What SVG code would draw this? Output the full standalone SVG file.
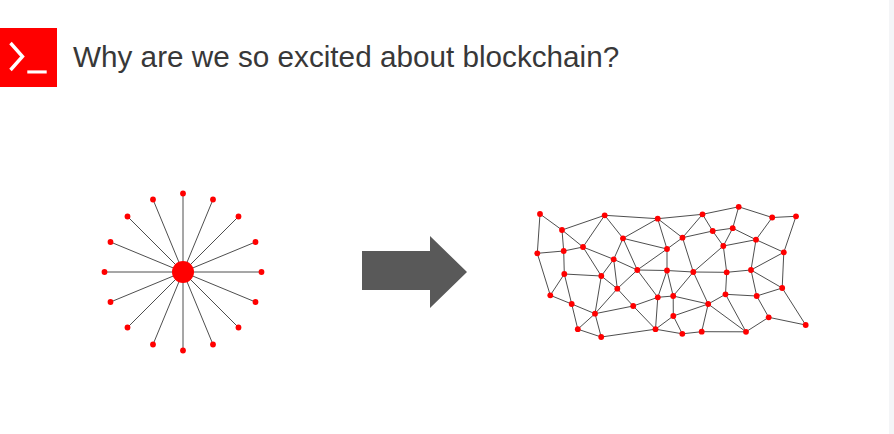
<svg xmlns="http://www.w3.org/2000/svg" width="894" height="434" viewBox="0 0 894 434">
<style>
.title{font-family:"Liberation Sans",Arial,sans-serif;font-size:29.7px;fill:#383838}
.edge{stroke:#3a3a3a;stroke-width:0.9;fill:none}
.dot{fill:#ff0000}
</style>
<defs>
<circle id="d" r="2.9" class="dot"/>
</defs>
<rect width="894" height="434" fill="#ffffff"/>
<rect x="889" y="0" width="5" height="434" fill="#f4f5f7"/>
<g id="logo">
<rect x="0" y="28" width="57" height="59" fill="#ff0000"/>
<polyline points="10.5,43 22.5,56.5 10.5,70" fill="none" stroke="#ffffff" stroke-width="3.4"/>
<rect x="27.3" y="70.4" width="19.4" height="3.1" fill="#ffffff"/>
</g>
<text id="title" class="title" x="73" y="67">Why are we so excited about blockchain?</text>
<g id="arrow">
<polygon points="362,251 430,251 430,236 467,272 430,308 430,290 362,290" fill="#595959"/>
</g>
<g id="star">
<g id="star-connectors" class="edge">
<line x1="183" y1="272" x2="183" y2="193.5"/>
<line x1="183" y1="272" x2="213" y2="199.5"/>
<line x1="183" y1="272" x2="238.5" y2="216.5"/>
<line x1="183" y1="272" x2="255.5" y2="242"/>
<line x1="183" y1="272" x2="261.5" y2="272"/>
<line x1="183" y1="272" x2="255.5" y2="302"/>
<line x1="183" y1="272" x2="238.5" y2="327.5"/>
<line x1="183" y1="272" x2="213" y2="344.5"/>
<line x1="183" y1="272" x2="183" y2="350.5"/>
<line x1="183" y1="272" x2="153" y2="344.5"/>
<line x1="183" y1="272" x2="127.5" y2="327.5"/>
<line x1="183" y1="272" x2="110.5" y2="302"/>
<line x1="183" y1="272" x2="104.5" y2="272"/>
<line x1="183" y1="272" x2="110.5" y2="242"/>
<line x1="183" y1="272" x2="127.5" y2="216.5"/>
<line x1="183" y1="272" x2="153" y2="199.5"/>
</g>
<g id="star-nodes">
<circle cx="183" cy="272" r="11" class="dot"/>
<use href="#d" x="183" y="193.5"/><use href="#d" x="213" y="199.5"/><use href="#d" x="238.5" y="216.5"/><use href="#d" x="255.5" y="242"/>
<use href="#d" x="261.5" y="272"/><use href="#d" x="255.5" y="302"/><use href="#d" x="238.5" y="327.5"/><use href="#d" x="213" y="344.5"/>
<use href="#d" x="183" y="350.5"/><use href="#d" x="153" y="344.5"/><use href="#d" x="127.5" y="327.5"/><use href="#d" x="110.5" y="302"/>
<use href="#d" x="104.5" y="272"/><use href="#d" x="110.5" y="242"/><use href="#d" x="127.5" y="216.5"/><use href="#d" x="153" y="199.5"/>
</g>
</g>
<g id="mesh">
<g id="mesh-connectors" class="edge">
<path d="M540,214L562,230 M540,214L537.3,253.3 M562,230L604.7,215.3 M562,230L563.7,251 M562,230L583,247 M604.7,215.3L583,247 M604.7,215.3L623,238.3 M604.7,215.3L657.7,218.7 M657.7,218.7L702.5,214.3 M657.7,218.7L623,238.3 M657.7,218.7L667,249 M657.7,218.7L682.5,237.7 M537.3,253.3L563.7,251 M537.3,253.3L550.3,295.3 M563.7,251L583,247 M563.7,251L564.3,274 M583,247L613.7,259.3 M583,247L601.3,276 M623,238.3L613.7,259.3 M623,238.3L667,249 M623,238.3L637.3,270 M667,249L682.5,237.7 M667,249L667,270.5 M667,249L637.3,270 M613.7,259.3L601.3,276 M613.7,259.3L617.3,288.7 M613.7,259.3L637.3,270 M637.3,270L667,270.5 M637.3,270L617.3,288.7 M637.3,270L657.8,297.3 M667,270.5L693.3,272 M667,270.5L657.8,297.3 M667,270.5L673.2,296 M564.3,274L601.3,276 M564.3,274L550.3,295.3 M564.3,274L571.7,304 M601.3,276L617.3,288.7 M601.3,276L595,313.7 M617.3,288.7L595,313.7 M617.3,288.7L633.2,306 M550.3,295.3L571.7,304 M571.7,304L595,313.7 M571.7,304L577.8,329.2 M595,313.7L577.8,329.2 M595,313.7L601.2,337 M595,313.7L633.2,306 M577.8,329.2L601.2,337 M601.2,337L655.5,329.2 M633.2,306L657.8,297.3 M633.2,306L655.5,329.2 M657.8,297.3L673.2,296 M657.8,297.3L655.5,329.2 M673.2,296L708.2,304 M673.2,296L673.3,316 M693.3,272L673.2,296 M693.3,272L708.2,304 M693.3,272L723.3,246 M693.3,272L726.7,272.3 M693.3,272L682.5,237.7 M673.3,316L655.5,329.2 M673.3,316L708.2,304 M673.3,316L682.3,333.8 M655.5,329.2L682.3,333.8 M682.3,333.8L701.7,331.7 M701.7,331.7L746,331.8 M708.2,304L701.7,331.7 M708.2,304L725.5,294.3 M708.2,304L746,331.8 M725.5,294.3L746,331.8 M702.5,214.3L738.7,206.8 M702.5,214.3L682.5,237.7 M702.5,214.3L712.7,231 M682.5,237.7L712.7,231 M712.7,231L732.7,228.2 M712.7,231L723.3,246 M738.7,206.8L732.7,228.2 M738.7,206.8L772.2,217.5 M772.2,217.5L796,216.3 M772.2,217.5L756,239.7 M732.7,228.2L723.3,246 M732.7,228.2L756,239.7 M723.3,246L756,239.7 M756,239.7L783.8,252.3 M796,216.3L783.8,252.3 M723.3,246L726.7,272.3 M756,239.7L751,270 M726.7,272.3L751,270 M751,270L783.8,252.3 M783.8,252.3L782.2,288 M751,270L782.2,288 M726.7,272.3L725.5,294.3 M751,270L756.7,296 M725.5,294.3L756.7,296 M756.7,296L782.2,288 M756.7,296L768.7,317.3 M768.7,317.3L746,331.8 M768.7,317.3L805.7,325 M782.2,288L805.7,325"/>
</g>
<g id="mesh-nodes">
<use href="#d" x="540" y="214"/><use href="#d" x="562" y="230"/><use href="#d" x="604.7" y="215.3"/><use href="#d" x="657.7" y="218.7"/>
<use href="#d" x="537.3" y="253.3"/><use href="#d" x="563.7" y="251"/><use href="#d" x="583" y="247"/><use href="#d" x="623" y="238.3"/>
<use href="#d" x="667" y="249"/><use href="#d" x="613.7" y="259.3"/><use href="#d" x="637.3" y="270"/><use href="#d" x="667" y="270.5"/>
<use href="#d" x="564.3" y="274"/><use href="#d" x="601.3" y="276"/><use href="#d" x="617.3" y="288.7"/><use href="#d" x="550.3" y="295.3"/>
<use href="#d" x="571.7" y="304"/><use href="#d" x="657.8" y="297.3"/><use href="#d" x="633.2" y="306"/><use href="#d" x="595" y="313.7"/>
<use href="#d" x="577.8" y="329.2"/><use href="#d" x="601.2" y="337"/><use href="#d" x="655.5" y="329.2"/>
<use href="#d" x="702.5" y="214.3"/><use href="#d" x="738.7" y="206.8"/><use href="#d" x="772.2" y="217.5"/><use href="#d" x="796" y="216.3"/>
<use href="#d" x="682.5" y="237.7"/><use href="#d" x="712.7" y="231"/><use href="#d" x="732.7" y="228.2"/><use href="#d" x="723.3" y="246"/>
<use href="#d" x="756" y="239.7"/><use href="#d" x="783.8" y="252.3"/><use href="#d" x="693.3" y="272"/><use href="#d" x="726.7" y="272.3"/>
<use href="#d" x="751" y="270"/><use href="#d" x="782.2" y="288"/><use href="#d" x="673.2" y="296"/><use href="#d" x="725.5" y="294.3"/>
<use href="#d" x="756.7" y="296"/><use href="#d" x="708.2" y="304"/><use href="#d" x="673.3" y="316"/><use href="#d" x="768.7" y="317.3"/>
<use href="#d" x="805.7" y="325"/><use href="#d" x="682.3" y="333.8"/><use href="#d" x="701.7" y="331.7"/><use href="#d" x="746" y="331.8"/>
</g>
</g>
</svg>
